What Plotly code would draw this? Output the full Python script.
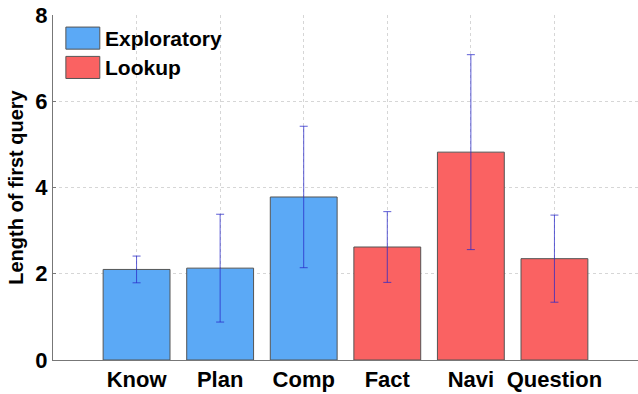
import plotly.graph_objects as go

# Mean length of the first query per task type, with error bars
categories = ["Know", "Plan", "Comp", "Fact", "Navi", "Question"]
groups = ["Exploratory", "Exploratory", "Exploratory", "Lookup", "Lookup", "Lookup"]
means = [2.10, 2.13, 3.78, 2.62, 4.82, 2.35]
errors = [0.31, 1.25, 1.64, 0.82, 2.26, 1.01]
y_ticks = [0, 2, 4, 6, 8]

group_colors = {"Exploratory": "#5ba9f6", "Lookup": "#fa6262"}
FONT = "Liberation Sans, Arial, Helvetica, sans-serif"

positions = list(range(1, len(categories) + 1))

fig = go.Figure()
for grp in ["Exploratory", "Lookup"]:
    idx = [i for i, g in enumerate(groups) if g == grp]
    fig.add_trace(go.Bar(
        x=[positions[i] for i in idx],
        y=[means[i] for i in idx],
        width=0.8,
        name=grp,
        marker=dict(color=group_colors[grp], line=dict(color="#555555", width=1)),
        error_y=dict(type="data", array=[errors[i] for i in idx], visible=True,
                     color="rgba(40,40,200,0.75)", thickness=1, width=4),
        showlegend=False,
    ))

# Legend drawn as coloured boxes with bold labels
legend_items = [("Exploratory", 0), ("Lookup", 1)]
for label, k in legend_items:
    y_top = 0.965 - k * 0.085
    fig.add_shape(type="rect", xref="paper", yref="paper",
                  x0=0.022, x1=0.080, y0=y_top - 0.064, y1=y_top,
                  fillcolor=group_colors[label], line=dict(color="#555555", width=1))
    fig.add_annotation(xref="paper", yref="paper", x=0.086, y=y_top - 0.032,
                       text=label, showarrow=False, xanchor="left", yanchor="middle",
                       font=dict(family=FONT, size=21, color="black", weight="bold"))

fig.update_layout(
    width=638, height=394,
    margin=dict(l=53, r=0, t=15, b=34),
    plot_bgcolor="white", paper_bgcolor="white",
    barmode="overlay",
    xaxis=dict(
        range=[0, 7],
        tickmode="array", tickvals=positions, ticktext=categories,
        tickfont=dict(family=FONT, size=22, color="black", weight="bold"),
        showgrid=True, gridcolor="#d6d6d6", griddash="dot", gridwidth=1,
        showline=True, linecolor="#777777", linewidth=1,
        ticks="", zeroline=False,
    ),
    yaxis=dict(
        range=[0, 8],
        tickmode="array", tickvals=y_ticks,
        tickfont=dict(family=FONT, size=22, color="black", weight="bold"),
        showgrid=True, gridcolor="#d6d6d6", griddash="dot", gridwidth=1,
        showline=True, linecolor="#777777", linewidth=1,
        ticks="inside", ticklen=3, tickcolor="#777777",
        zeroline=False,
        title=dict(text="Length of first query", standoff=6,
                   font=dict(family=FONT, size=20, color="black", weight="bold")),
    ),
)

fig.write_html("out.html")
